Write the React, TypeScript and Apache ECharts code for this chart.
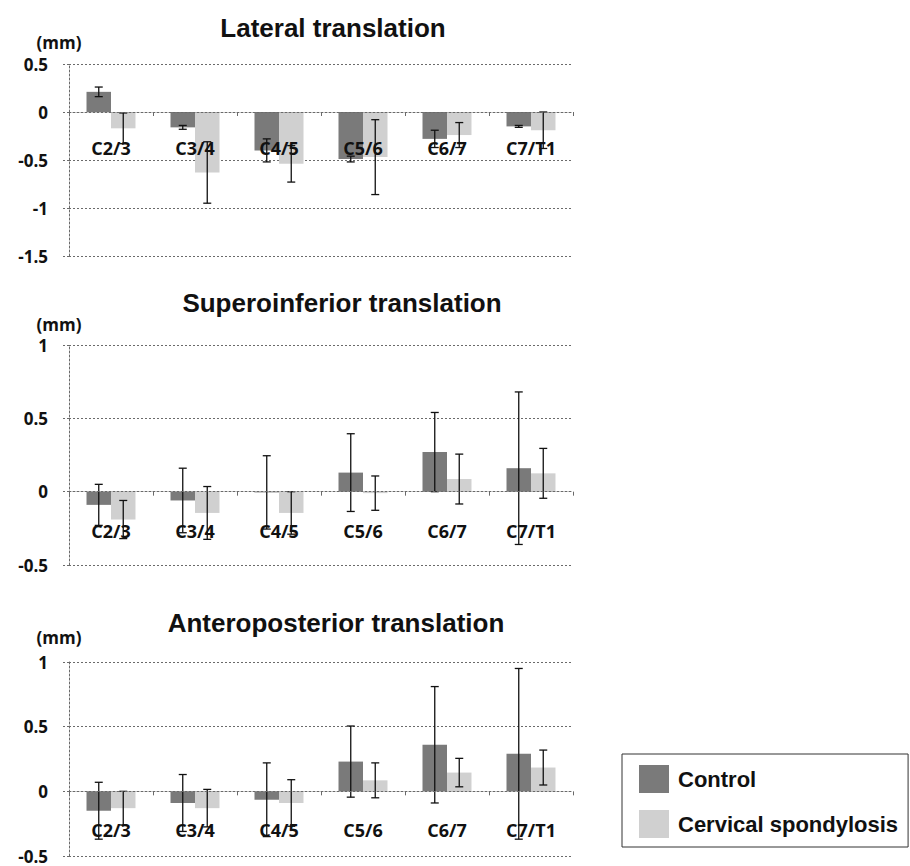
import React, { useEffect, useRef } from "react";
import * as echarts from "echarts";

const categories = ["C2/3", "C3/4", "C4/5", "C5/6", "C6/7", "C7/T1"];
const seriesNames = ["Control", "Cervical spondylosis"];

// Lateral translation (mm)
const lateralControlMean = [0.21, -0.16, -0.4, -0.49, -0.28, -0.15];
const lateralControlSd = [0.05, 0.02, 0.12, 0.03, 0.09, 0.01];
const lateralSpondMean = [-0.17, -0.63, -0.54, -0.47, -0.24, -0.19];
const lateralSpondSd = [0.16, 0.32, 0.19, 0.39, 0.13, 0.19];
const lateralTicks = [-1.5, -1, -0.5, 0, 0.5];

// Superoinferior translation (mm)
const supControlMean = [-0.09, -0.06, -0.005, 0.13, 0.27, 0.16];
const supControlSd = [0.14, 0.22, 0.25, 0.265, 0.27, 0.52];
const supSpondMean = [-0.19, -0.145, -0.145, -0.01, 0.086, 0.125];
const supSpondSd = [0.13, 0.18, 0.145, 0.117, 0.17, 0.17];
const supTicks = [-0.5, 0, 0.5, 1];

// Anteroposterior translation (mm)
const apControlMean = [-0.15, -0.09, -0.065, 0.23, 0.36, 0.29];
const apControlSd = [0.22, 0.22, 0.285, 0.275, 0.45, 0.66];
const apSpondMean = [-0.13, -0.13, -0.09, 0.085, 0.145, 0.184];
const apSpondSd = [0.13, 0.145, 0.18, 0.135, 0.11, 0.135];
const apTicks = [-0.5, 0, 0.5, 1];

const titles = ["Lateral translation", "Superoinferior translation", "Anteroposterior translation"];

const CONTROL_COLOR = "#7a7a7a";
const SPOND_COLOR = "#d0d0d0";
const BAR_W = 24.5;

const panels = [
  {
    title: titles[0],
    cm: lateralControlMean, cs: lateralControlSd, sm: lateralSpondMean, ss: lateralSpondSd,
    ticks: lateralTicks,
    grid: { left: 69, width: 504, top: 64, height: 192 },
    titleXY: [333, 28], mmY: 42, labelMargin: 27,
  },
  {
    title: titles[1],
    cm: supControlMean, cs: supControlSd, sm: supSpondMean, ss: supSpondSd,
    ticks: supTicks,
    grid: { left: 69, width: 504, top: 345, height: 220 },
    titleXY: [342, 303], mmY: 324, labelMargin: 30,
  },
  {
    title: titles[2],
    cm: apControlMean, cs: apControlSd, sm: apSpondMean, ss: apSpondSd,
    ticks: apTicks,
    grid: { left: 69, width: 504, top: 662, height: 194 },
    titleXY: [336, 623], mmY: 637, labelMargin: 30,
  },
];

const dotted = { color: "#6a6a6a", type: [2, 2] as any, width: 1 };

function buildOption() {
  const grids: any[] = [];
  const xAxes: any[] = [];
  const yAxes: any[] = [];
  const series: any[] = [];
  const graphics: any[] = [];

  panels.forEach((p, i) => {
    grids.push({ ...p.grid, containLabel: false });
    const tmin = p.ticks[0];
    const tmax = p.ticks[p.ticks.length - 1];
    const interval = p.ticks[1] - p.ticks[0];
    // distance from the grid bottom up to the value 0
    const zeroOffset = -(p.grid.height * (0 - tmin)) / (tmax - tmin);
    xAxes.push({
      type: "category",
      gridIndex: i,
      data: categories,
      position: "bottom",
      offset: zeroOffset,
      z: 10,
      axisLine: { show: true, onZero: false, lineStyle: dotted },
      axisTick: { show: true, length: 4, lineStyle: { color: "#6a6a6a", width: 1 } },
      axisLabel: {
        margin: p.labelMargin,
        fontFamily: "Open Sans",
        fontWeight: 700,
        fontSize: 18,
        color: "#111",
        hideOverlap: false,
      },
      splitLine: { show: false },
    });
    yAxes.push({
      type: "value",
      gridIndex: i,
      min: tmin,
      max: tmax,
      interval,
      axisLine: { show: true, lineStyle: dotted },
      axisTick: { show: true, length: 7, lineStyle: dotted },
      axisLabel: {
        margin: 21,
        fontFamily: "Open Sans",
        fontWeight: 700,
        fontSize: 17,
        color: "#111",
        padding: [6, 0, 0, 0],
      },
      splitLine: { show: true, lineStyle: dotted },
    });
    series.push({
      name: seriesNames[0],
      type: "bar",
      xAxisIndex: i,
      yAxisIndex: i,
      data: p.cm,
      barWidth: BAR_W,
      barGap: "0%",
      itemStyle: { color: CONTROL_COLOR },
      z: 2,
    });
    series.push({
      name: seriesNames[1],
      type: "bar",
      xAxisIndex: i,
      yAxisIndex: i,
      data: p.sm,
      barWidth: BAR_W,
      barGap: "0%",
      itemStyle: { color: SPOND_COLOR },
      z: 2,
    });
    const errData: number[][] = [];
    categories.forEach((_, k) => {
      errData.push([k, p.cm[k] - p.cs[k], p.cm[k] + p.cs[k], 0]);
      errData.push([k, p.sm[k] - p.ss[k], p.sm[k] + p.ss[k], 1]);
    });
    series.push({
      name: "error" + i,
      type: "custom",
      xAxisIndex: i,
      yAxisIndex: i,
      z: 5,
      encode: { x: 0, y: [1, 2] },
      data: errData,
      renderItem: (params: any, api: any) => {
        const x = api.value(0);
        const lo = api.value(1);
        const hi = api.value(2);
        const side = api.value(3);
        const p0 = api.coord([x, lo]);
        const p1 = api.coord([x, hi]);
        const cx = p0[0] + (side === 0 ? -BAR_W / 2 : BAR_W / 2);
        const cap = 4;
        const st = { stroke: "#111", lineWidth: 1.3 };
        return {
          type: "group",
          children: [
            { type: "line", shape: { x1: cx, y1: p0[1], x2: cx, y2: p1[1] }, style: st },
            { type: "line", shape: { x1: cx - cap, y1: p0[1], x2: cx + cap, y2: p0[1] }, style: st },
            { type: "line", shape: { x1: cx - cap, y1: p1[1], x2: cx + cap, y2: p1[1] }, style: st },
          ],
        };
      },
    });

    graphics.push({
      type: "text",
      x: p.titleXY[0],
      y: p.titleXY[1],
      style: {
        text: p.title,
        fontFamily: "Liberation Sans",
        fontWeight: "bold",
        fontSize: 26,
        fill: "#111",
        textAlign: "center",
        textVerticalAlign: "middle",
      },
    });
    graphics.push({
      type: "text",
      x: 59,
      y: p.mmY,
      style: {
        text: "(mm)",
        fontFamily: "Open Sans",
        fontWeight: 700,
        fontSize: 17,
        fill: "#111",
        textAlign: "center",
        textVerticalAlign: "middle",
      },
    });
  });

  return {
    animation: false,
    backgroundColor: "#ffffff",
    grid: grids,
    xAxis: xAxes,
    yAxis: yAxes,
    series,
    graphic: graphics,
    legend: {
      data: seriesNames,
      orient: "vertical",
      left: 622,
      top: 754,
      padding: [11, 10, 9, 17],
      itemWidth: 30,
      itemHeight: 28,
      itemGap: 17,
      icon: "rect",
      borderColor: "#333",
      borderWidth: 1,
      textStyle: {
        fontFamily: "Liberation Sans",
        fontWeight: "bold",
        fontSize: 22,
        color: "#111",
        padding: [0, 0, 0, 4],
      },
      selectedMode: false,
    },
  };
}

export default function App() {
  const ref = useRef<HTMLDivElement>(null);
  useEffect(() => {
    if (!ref.current) return;
    const chart = echarts.init(ref.current, undefined, { renderer: "svg" });
    chart.setOption(buildOption() as any);
    return () => chart.dispose();
  }, []);
  return (
    <div
      ref={ref}
      style={{ position: "fixed", left: 0, top: 0, width: 910, height: 866, background: "#fff" }}
    />
  );
}
